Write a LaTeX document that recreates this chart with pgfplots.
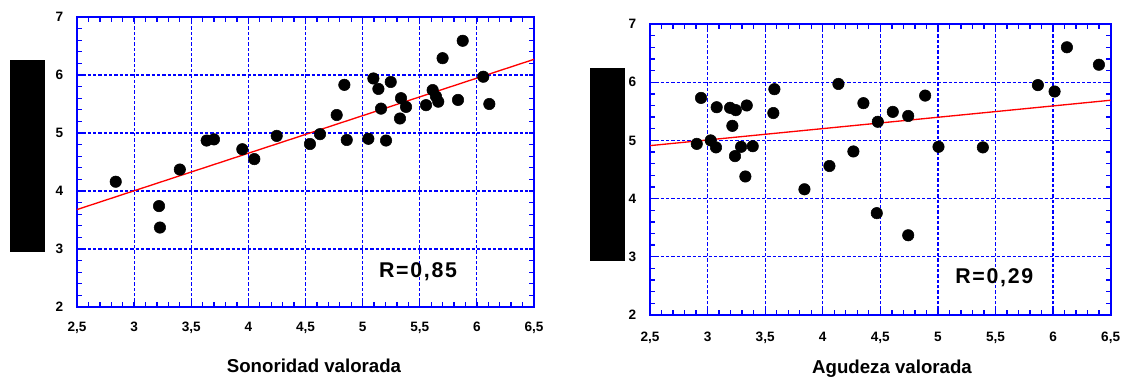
\documentclass[border=0pt]{standalone}
\usepackage{fontspec}
\setmainfont{Liberation Sans}
\usepackage{pgfplots}
\pgfplotsset{compat=1.18}
\pgfplotsset{
  myax/.style={
    scale only axis,
    anchor=south west,
    xmin=2.5, xmax=6.5, ymin=2, ymax=7,
    xtick={2.5,3,3.5,4,4.5,5,5.5,6,6.5},
    xticklabels={{2,5},3,{3,5},4,{4,5},5,{5,5},6,{6,5}},
    ytick={2,3,4,5,6,7},
    minor x tick num=4, minor y tick num=4,
    tick pos=both, tick align=inside,
    major tick length=3.6pt, minor tick length=3.6pt,
    major tick style={blue, line width=1pt},
    minor tick style={blue, line width=1pt},
    axis line style={blue, line width=1.6pt},
    grid=major,
    major grid style={blue, line width=0.9pt, dash pattern=on 2.6pt off 1.4pt},
    ticklabel style={font=\fontsize{10.2}{11}\selectfont\bfseries},
    /pgf/number format/assume math mode=true,
    yticklabel shift=6.8pt,
  },
  dots/.style={only marks, mark=*, mark size=4.3pt, black, mark options={fill=black, draw=black}},
  fit/.style={red, line width=1pt, no marks},
}
\begin{document}
\begin{tikzpicture}
\useasboundingbox (0,0) rectangle (845.25pt,283.5pt);
% redacted y labels
\fill[black] (7.5pt,94.7pt) rectangle (33.75pt,238.5pt);
\fill[black] (442.5pt,88pt) rectangle (468.75pt,232.5pt);
% left
\begin{axis}[myax, at={(57.75pt,53.25pt)}, width=342.75pt, height=217.5pt, xticklabel shift=8pt]
\addplot[fit] coordinates {(2.5,3.68) (6.5,6.27)};
\addplot[dots] coordinates {
(2.839,4.16) (3.400,4.37) (3.635,4.87) (3.699,4.89) (3.947,4.72) (4.052,4.55)
(4.248,4.95) (4.539,4.81) (4.627,4.98) (4.773,5.31) (4.840,5.83) (4.861,4.88)
(5.050,4.90) (5.094,5.94) (5.138,5.76) (5.161,5.42) (5.205,4.87) (5.246,5.88)
(5.327,5.25) (5.336,5.60) (5.380,5.45) (5.555,5.48) (5.613,5.74) (5.642,5.63)
(5.662,5.54) (5.700,6.29) (5.835,5.57) (5.876,6.59) (6.056,5.97) (6.109,5.50)
(3.218,3.74) (3.226,3.37)
};
\node[font=\fontsize{16}{17}\selectfont\bfseries\addfontfeatures{LetterSpace=8}] at (axis cs:5.485,2.60) {R=0,85};
\end{axis}
% right
\begin{axis}[myax, at={(487.5pt,47.25pt)}, width=345.5pt, height=218.25pt, xticklabel shift=9.5pt]
\addplot[fit] coordinates {(2.5,4.91) (6.5,5.69)};
\addplot[dots] coordinates {
(2.943,5.73) (2.906,4.94) (3.027,5.00) (3.073,4.88) (3.079,5.57) (3.195,5.56)
(3.245,5.52) (3.215,5.25) (3.238,4.73) (3.291,4.89) (3.340,5.60) (3.392,4.90)
(3.328,4.38) (3.580,5.88) (3.571,5.47) (3.841,4.16) (4.136,5.97) (4.058,4.56)
(4.266,4.81) (4.353,5.64) (4.478,5.32) (4.608,5.49) (4.742,5.42) (4.889,5.77)
(5.005,4.89) (5.390,4.88) (5.868,5.95) (6.013,5.84) (6.120,6.60) (6.398,6.30)
(4.469,3.75) (4.742,3.37)
};
\node[font=\fontsize{16}{17}\selectfont\bfseries\addfontfeatures{LetterSpace=8}] at (axis cs:5.489,2.636) {R=0,29};
\end{axis}
% x titles
\node[anchor=base, font=\fontsize{14}{16}\selectfont\bfseries] at (235.5pt,4.5pt) {Sonoridad valorada};
\node[anchor=base, font=\fontsize{14}{16}\selectfont\bfseries] at (669pt,3.3pt) {Agudeza valorada};
\end{tikzpicture}
\end{document}
